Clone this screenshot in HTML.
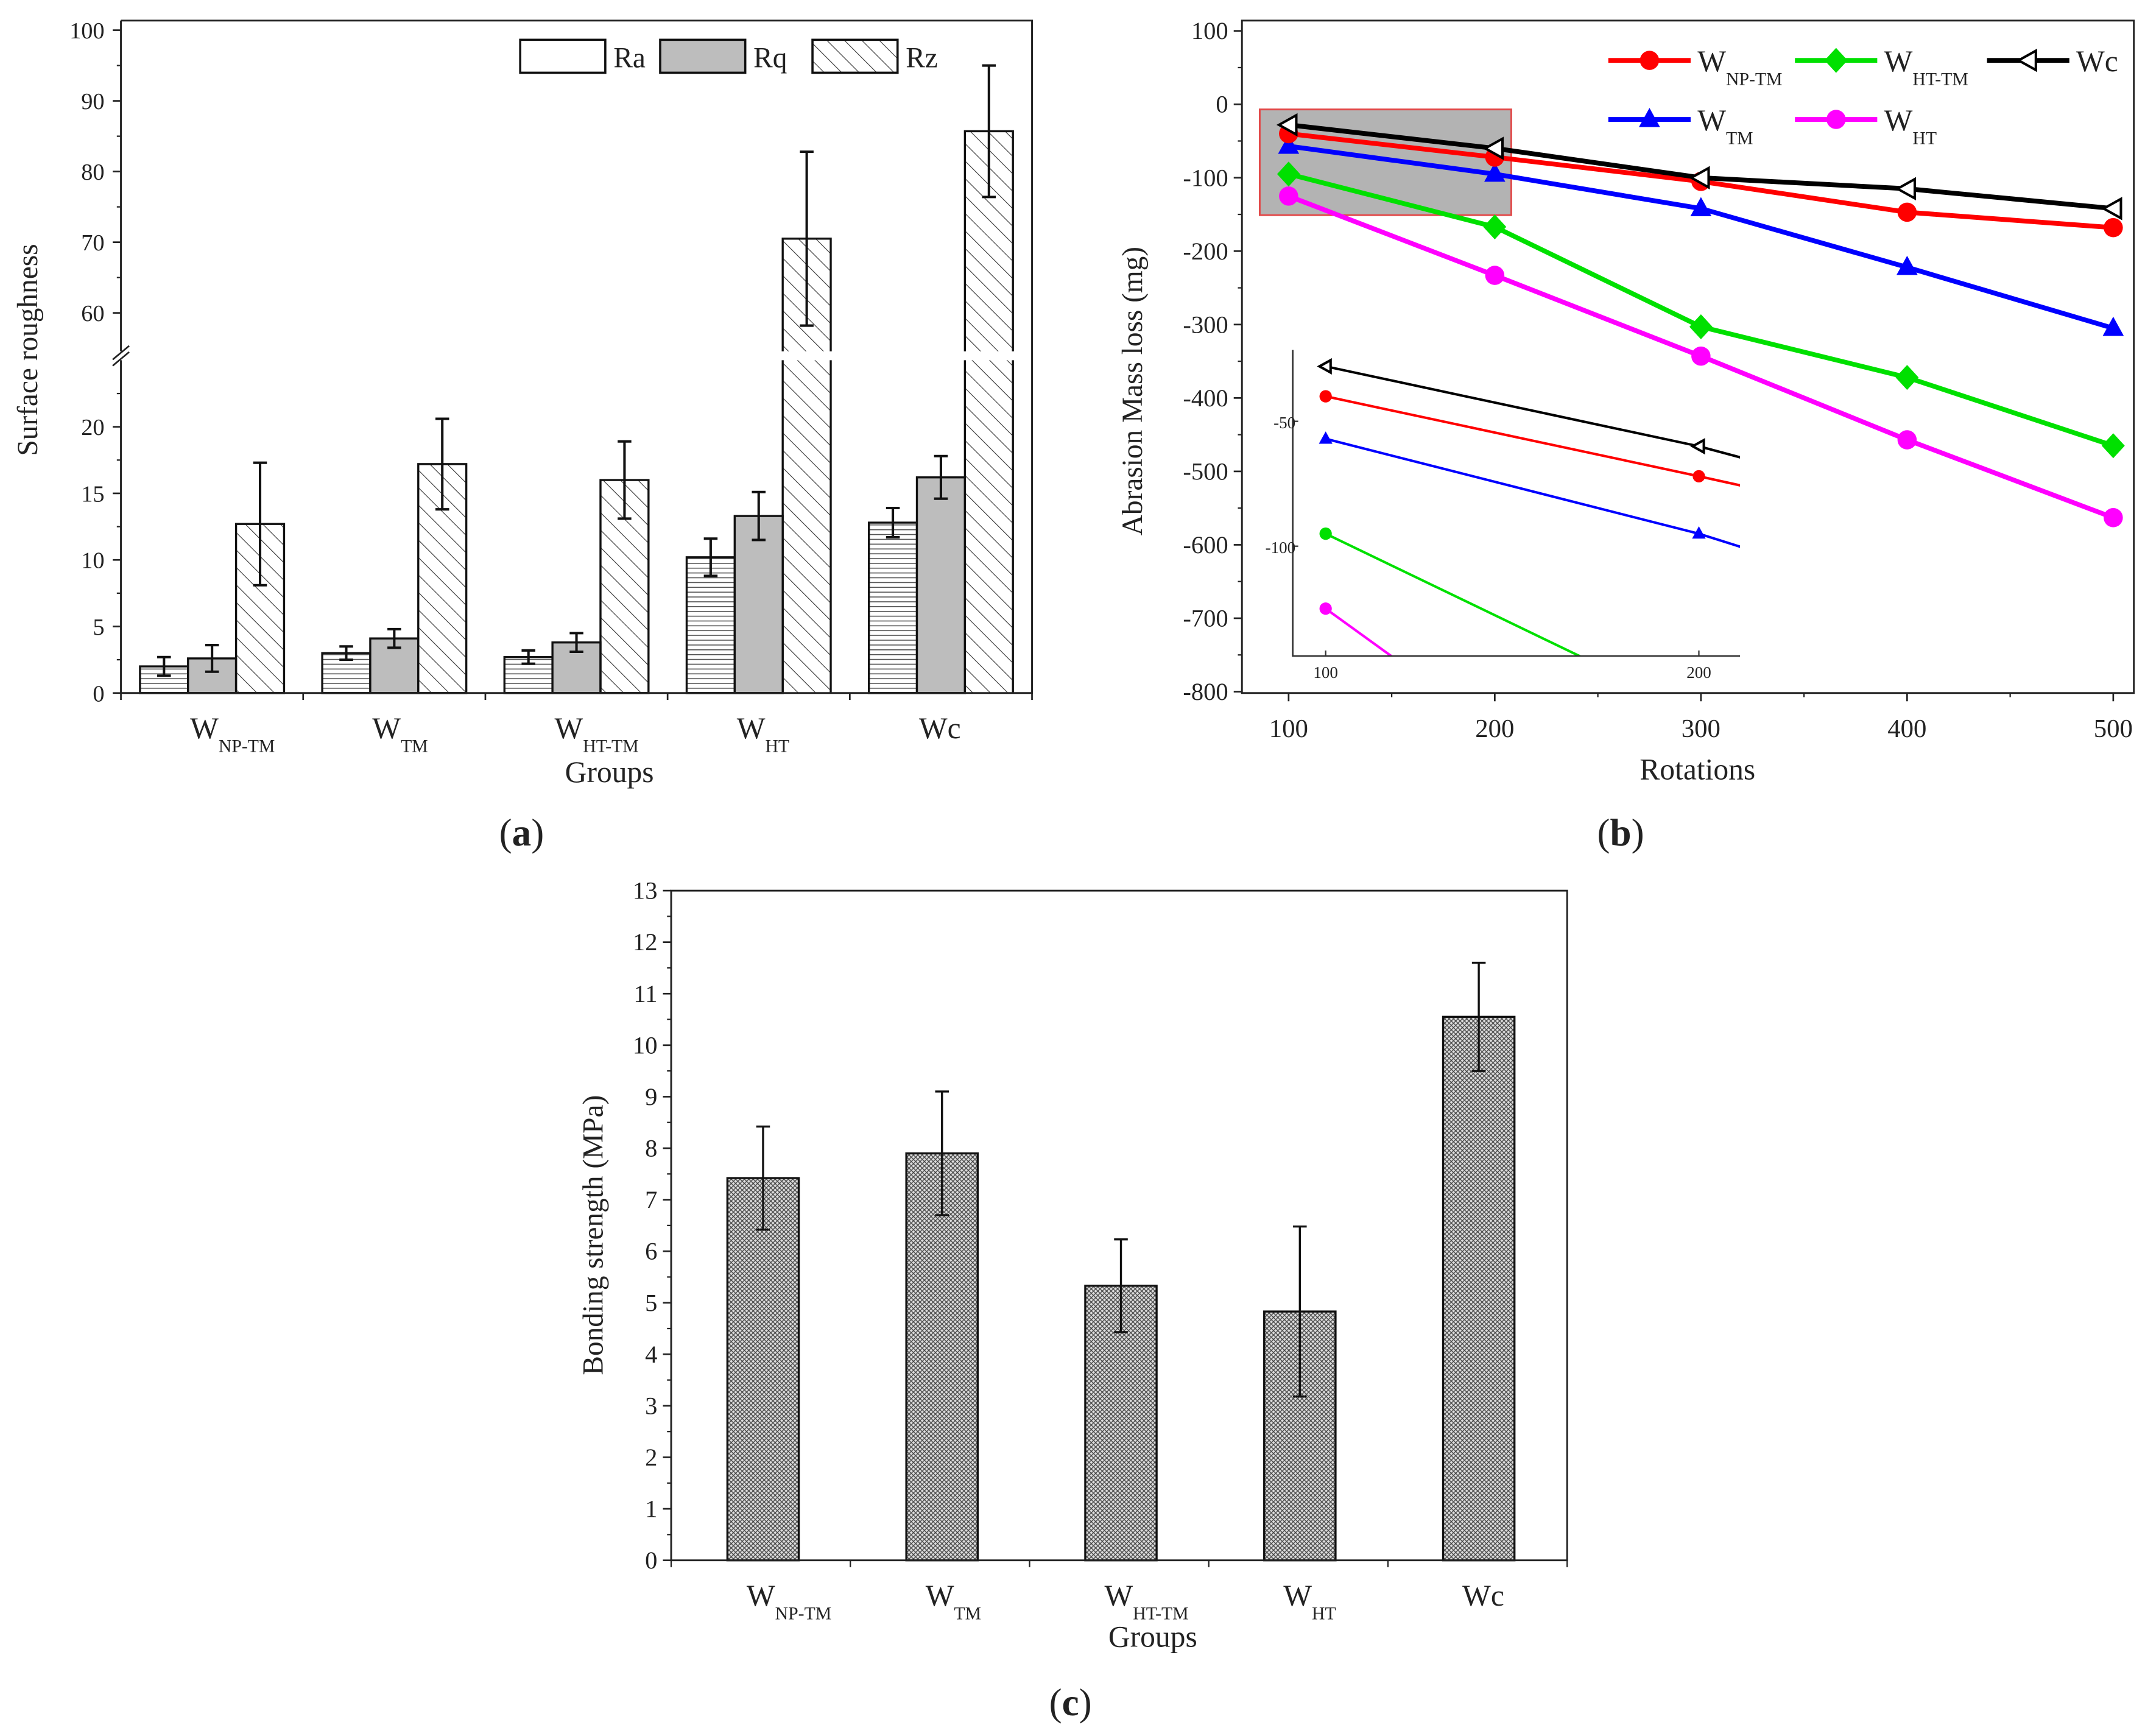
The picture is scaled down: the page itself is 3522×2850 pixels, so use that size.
<!DOCTYPE html>
<html><head><meta charset="utf-8"><style>
html,body{margin:0;padding:0;background:#fff;}
svg{display:block;}
text{font-family:"Liberation Serif",serif;fill:#222;}
</style></head><body>
<svg id="fig" width="3522" height="2850" viewBox="0 0 1563 1265" xmlns="http://www.w3.org/2000/svg">
<defs>
<pattern id="diag" patternUnits="userSpaceOnUse" width="9" height="9" patternTransform="rotate(-45)"><line x1="0" y1="0" x2="0" y2="9" stroke="#333" stroke-width="1"/></pattern>
<pattern id="horiz" patternUnits="userSpaceOnUse" width="10" height="3.5"><line x1="0" y1="1" x2="10" y2="1" stroke="#555" stroke-width="0.7"/></pattern>
<pattern id="cross" patternUnits="userSpaceOnUse" width="3.2" height="3.2"><rect width="3.2" height="3.2" fill="#ddd"/><path d="M0,0L3.2,3.2M3.2,0L0,3.2" stroke="#444" stroke-width="0.6"/></pattern>
<clipPath id="insetClip"><rect x="942" y="255" width="326" height="223"/></clipPath>
</defs>
<g id="pa"></g>
<g id="pb"></g>
<g id="pc"></g>
</svg>
<script>
// ---------- Panel (a) data ----------
const aGroups = ["NP-TM","TM","HT-TM","HT","c"];
const raVals = [2.0, 3.0, 2.7, 10.2, 12.8];
const raErr = [0.7, 0.5, 0.5, 1.4, 1.1];
const rqVals = [2.6, 4.1, 3.8, 13.3, 16.2];
const rqErr = [1.0, 0.7, 0.7, 1.8, 1.6];
const rzVals = [12.7, 17.2, 16.0, 70.5, 85.7];
const rzErr = [4.6, 3.4, 2.9, 12.3, 9.3];
const aLowTicks = [0, 5, 10, 15, 20];
const aHighTicks = [60, 70, 80, 90, 100];
// ---------- Panel (b) data ----------
const rotations = [100, 200, 300, 400, 500];
const npTm = [-40, -72, -105, -147, -168];
const tm = [-57, -95, -142, -222, -305];
const htTm = [-95, -167, -303, -372, -465];
const ht = [-125, -233, -343, -457, -563];
const wc = [-28, -60, -100, -115, -142];
const bYTicks = [100, 0, -100, -200, -300, -400, -500, -600, -700, -800];
const bXTicks = [100, 200, 300, 400, 500];
// ---------- Panel (c) data ----------
const cGroups = ["NP-TM","TM","HT-TM","HT","c"];
const bondVals = [7.42, 7.9, 5.33, 4.83, 10.55];
const bondErr = [1.0, 1.2, 0.9, 1.65, 1.05];
const cYTicks = [0,1,2,3,4,5,6,7,8,9,10,11,12,13];

const NS = "http://www.w3.org/2000/svg";
function mk(parent, tag, attrs, txt){
  const e = document.createElementNS(NS, tag);
  for (const k in attrs) e.setAttribute(k, attrs[k]);
  if (txt !== undefined) e.textContent = txt;
  parent.appendChild(e);
  return e;
}
function wlabel(parent, x, y, sub, fs){
  const t = mk(parent, "text", {x:x, y:y, "font-size":fs});
  if (sub === "c") { t.textContent = "Wc"; return t; }
  const a = document.createElementNS(NS, "tspan"); a.textContent = "W"; t.appendChild(a);
  const b = document.createElementNS(NS, "tspan"); b.setAttribute("dy", fs*0.45); b.setAttribute("font-size", fs*0.6); b.textContent = sub; t.appendChild(b);
  return t;
}

// ================= Panel A =================
(function(){
  const g = document.getElementById("pa");
  const L=88, R=752, T=15, B=505;
  function ya(v){ return v <= 25 ? 505 - v*9.7 : 228 - (v-60)*5.15; }
  const lowTop = ya(25), highBot = 256;
  const gw = (R-L)/5, bw = 35;
  function gx(i){ return L + gw*i + gw/2; }
  const series = [
    {vals:raVals, err:raErr, fill:"url(#horiz)", name:"ra", off:-1},
    {vals:rqVals, err:rqErr, fill:"#bdbdbd", name:"rq", off:0},
    {vals:rzVals, err:rzErr, fill:"url(#diag)", name:"rz", off:1}
  ];
  series.forEach(s=>{
    s.vals.forEach((v,i)=>{
      const x = gx(i) + s.off*bw - bw/2;
      if (v <= 25) {
        const r = mk(g,"rect",{x:x,y:ya(v),width:bw,height:B-ya(v),fill:s.fill,stroke:"#111","stroke-width":1.5});
        
        
      } else {
        const r1 = mk(g,"path",{d:`M${x},${B}V${lowTop}H${x+bw}V${B}Z`,fill:s.fill,stroke:"none"});
        
        
        mk(g,"path",{d:`M${x},${B}V${lowTop}M${x+bw},${lowTop}V${B}`,fill:"none",stroke:"#111","stroke-width":1.5});
        const r2 = mk(g,"path",{d:`M${x},${highBot}V${ya(v)}H${x+bw}V${highBot}Z`,fill:s.fill,stroke:"none"});
        
        
        mk(g,"path",{d:`M${x},${highBot}V${ya(v)}H${x+bw}V${highBot}`,fill:"none",stroke:"#111","stroke-width":1.5});
      }
      const cx = x + bw/2, e = s.err[i];
      const y1 = ya(v+e), y2 = ya(v-e);
      const eb = mk(g,"path",{d:`M${cx},${y1}V${y2}M${cx-5},${y1}H${cx+5}M${cx-5},${y2}H${cx+5}`,stroke:"#111","stroke-width":1.8,fill:"none"});
      
      
    });
  });
  const ax = mk(g,"path",{d:`M${L},${T}V${highBot}M${L},${lowTop}V${B}H${R}V${T}H${L}`,stroke:"#222","stroke-width":1.3,fill:"none"});
  
  
  mk(g,"path",{d:`M${L-6},${highBot+6}L${L+6},${highBot-4}M${L-6},${lowTop+4}L${L+6},${lowTop-6}`,stroke:"#222","stroke-width":1.2});
  aLowTicks.concat(aHighTicks).forEach(v=>{
    const y = ya(v);
    mk(g,"line",{x1:L-6,y1:y,x2:L,y2:y,stroke:"#222","stroke-width":1.2});
    const t = mk(g,"text",{x:L-12,y:y+6,"text-anchor":"end","font-size":17},String(v));
    
    
  });
  for (let v=2.5; v<25; v+=5) mk(g,"line",{x1:L-3,y1:ya(v),x2:L,y2:ya(v),stroke:"#222"});
  for (let v=65; v<100; v+=10) mk(g,"line",{x1:L-3,y1:ya(v),x2:L,y2:ya(v),stroke:"#222"});
  for (let i=0;i<=5;i++){ const x=L+gw*i; mk(g,"line",{x1:x,y1:B,x2:x,y2:B+5,stroke:"#222","stroke-width":1.2}); }
  aGroups.forEach((n,i)=>{
    const t = wlabel(g, gx(i)-16, 538, n, 22);
    
    
  });
  let t = mk(g,"text",{x:444,y:570,"text-anchor":"middle","font-size":22},"Groups");
   
  t = mk(g,"text",{x:0,y:0,"text-anchor":"middle","font-size":21,transform:"translate(27,255) rotate(-90)"},"Surface roughness");
   
  const leg = [["Ra","#fff",379],["Rq","#bdbdbd",481],["Rz","url(#diag)",592]];
  leg.forEach(l=>{
    const r = mk(g,"rect",{x:l[2],y:29,width:62,height:24,fill:l[1],stroke:"#111","stroke-width":1.6});
     
    const tx = mk(g,"text",{x:l[2]+68,y:49,"font-size":21},l[0]);
     
  });
  const pl = mk(g,"text",{x:380,y:616,"text-anchor":"middle","font-size":28});
  pl.innerHTML = '(<tspan font-weight="bold">a</tspan>)';
   
})();

// ================= Panel B =================
(function(){
  const g = document.getElementById("pb");
  const L=905, R=1555, T=15, B=505;
  const xb = v => 939 + (v-100)*1.5025;
  const yb = v => 76 - v*0.535;
  const series = [
    {vals:wc, color:"#000", name:"wc", m:"tri-left"},
    {vals:npTm, color:"#f00", name:"np-tm", m:"circle"},
    {vals:tm, color:"#00f", name:"tm", m:"triangle"},
    {vals:htTm, color:"#00e000", name:"ht-tm", m:"diamond"},
    {vals:ht, color:"#ff00ff", name:"ht", m:"circle"}
  ];
  function marker(p, m, x, y, c, s){
    if (m==="circle") return mk(p,"circle",{cx:x,cy:y,r:s,fill:c});
    if (m==="triangle") return mk(p,"path",{d:`M${x},${y-s*1.2}L${x+s*1.1},${y+s*0.8}L${x-s*1.1},${y+s*0.8}Z`,fill:c});
    if (m==="diamond") return mk(p,"path",{d:`M${x},${y-s*1.3}L${x+s*1.2},${y}L${x},${y+s*1.3}L${x-s*1.2},${y}Z`,fill:c});
    return mk(p,"path",{d:`M${x-s},${y}L${x+s*0.8},${y-s}L${x+s*0.8},${y+s}Z`,fill:"#fff",stroke:c,"stroke-width":1.8});
  }
  const hr = mk(g,"rect",{x:xb(86),y:yb(-7),width:xb(208)-xb(86),height:yb(-151)-yb(-7),fill:"#b3b3b3",stroke:"#e24a4a","stroke-width":1.3});
   
  [...series].reverse().forEach(s=>{
    const pts = s.vals.map((v,i)=>xb(rotations[i])+","+yb(v)).join(" ");
    const pl = mk(g,"polyline",{points:pts,fill:"none",stroke:s.color,"stroke-width":3.5});
     
    s.vals.forEach((v,i)=>{
      const mm = marker(g, s.m, xb(rotations[i]), yb(v), s.color, 7);
       
    });
  });
  const fr = mk(g,"rect",{x:L,y:T,width:R-L,height:B-T,fill:"none",stroke:"#222","stroke-width":1.3});
   
  bYTicks.forEach(v=>{
    const y=yb(v);
    mk(g,"line",{x1:L-6,y1:y,x2:L,y2:y,stroke:"#222","stroke-width":1.2});
    const t = mk(g,"text",{x:L-10,y:y+6,"text-anchor":"end","font-size":18},String(v));
     
  });
  for (let v=50; v>-800; v-=100) mk(g,"line",{x1:L-3,y1:yb(v),x2:L,y2:yb(v),stroke:"#222"});
  bXTicks.forEach(v=>{
    const x=xb(v);
    mk(g,"line",{x1:x,y1:B,x2:x,y2:B+6,stroke:"#222","stroke-width":1.2});
    const t = mk(g,"text",{x:x,y:537,"text-anchor":"middle","font-size":19},String(v));
     
  });
  for (let v=150; v<500; v+=100) mk(g,"line",{x1:xb(v),y1:B,x2:xb(v),y2:B+3,stroke:"#222"});
  let t = mk(g,"text",{x:1237,y:568,"text-anchor":"middle","font-size":22},"Rotations");
   
  t = mk(g,"text",{x:0,y:0,"text-anchor":"middle","font-size":21,transform:"translate(832,285) rotate(-90)"},"Abrasion Mass loss (mg)");
   
  const ig = mk(g,"g",{});
   
  const xi = v => 966 + (v-100)*2.72;
  const yi = v => 307 - (v+50)*1.82;
  const cg = mk(ig,"g",{"clip-path":"url(#insetClip)"});
  series.forEach(s=>{
    const pts = s.vals.map((v,i)=>xi(rotations[i])+","+yi(v)).join(" ");
    const pl = mk(cg,"polyline",{points:pts,fill:"none",stroke:s.color,"stroke-width":1.8});
     
    s.vals.forEach((v,i)=>{ marker(cg, s.m==="diamond"?"circle":s.m, xi(rotations[i]), yi(v), s.color, 4.5); });
  });
  mk(ig,"path",{d:"M942,255V478H1268",fill:"none",stroke:"#333","stroke-width":1.2});
  [-50,-100].forEach(v=>{
    mk(ig,"line",{x1:942,y1:yi(v),x2:946,y2:yi(v),stroke:"#333"});
    const tt = mk(ig,"text",{x:944,y:yi(v)+5,"text-anchor":"end","font-size":12},String(v));
     
  });
  [100,200].forEach(v=>{
    mk(ig,"line",{x1:xi(v),y1:478,x2:xi(v),y2:474,stroke:"#333"});
    const tt = mk(ig,"text",{x:xi(v),y:494,"text-anchor":"middle","font-size":12},String(v));
     
  });
  const leg = [
    ["NP-TM","#f00","circle",1172,44],["HT-TM","#00e000","diamond",1308,44],["c","#000","tri-left",1448,44],
    ["TM","#00f","triangle",1172,87],["HT","#ff00ff","circle",1308,87]
  ];
  leg.forEach(l=>{
    const lg = mk(g,"g",{});
     
    mk(lg,"line",{x1:l[3],y1:l[4],x2:l[3]+60,y2:l[4],stroke:l[1],"stroke-width":3.5});
    marker(lg,l[2],l[3]+30,l[4],l[1],7);
    wlabel(lg,l[3]+65,l[4]+8,l[0],22);
  });
  const pl = mk(g,"text",{x:1181,y:616,"text-anchor":"middle","font-size":28});
  pl.innerHTML = '(<tspan font-weight="bold">b</tspan>)';
   
})();

// ================= Panel C =================
(function(){
  const g = document.getElementById("pc");
  const L=489, R=1142, T=649, B=1137;
  const yc = v => B - v*37.54;
  const gw = 130.4, bw = 52;
  const xc = i => 556 + i*gw;
  bondVals.forEach((v,i)=>{
    const r = mk(g,"rect",{x:xc(i)-bw/2,y:yc(v),width:bw,height:B-yc(v),fill:"url(#cross)",stroke:"#111","stroke-width":1.5});
     
    const e=bondErr[i], cx=xc(i), y1=yc(v+e), y2=yc(v-e);
    const eb = mk(g,"path",{d:`M${cx},${y1}V${y2}M${cx-5},${y1}H${cx+5}M${cx-5},${y2}H${cx+5}`,stroke:"#111","stroke-width":1.5,fill:"none"});
     
    const t = wlabel(g, cx-12, 1170, cGroups[i], 22);
     
  });
  const fr = mk(g,"rect",{x:L,y:T,width:R-L,height:B-T,fill:"none",stroke:"#222","stroke-width":1.3});
   
  cYTicks.forEach(v=>{
    mk(g,"line",{x1:L-6,y1:yc(v),x2:L,y2:yc(v),stroke:"#222","stroke-width":1.2});
    if (v < 13) mk(g,"line",{x1:L-3,y1:yc(v+0.5),x2:L,y2:yc(v+0.5),stroke:"#222"});
    const t = mk(g,"text",{x:L-10,y:yc(v)+6,"text-anchor":"end","font-size":18},String(v));
     
  });
  for (let i=0;i<=5;i++){ const x=L+(R-L)/5*i; mk(g,"line",{x1:x,y1:B,x2:x,y2:B+5,stroke:"#222"}); }
  let t = mk(g,"text",{x:840,y:1200,"text-anchor":"middle","font-size":22},"Groups");
   
  t = mk(g,"text",{x:0,y:0,"text-anchor":"middle","font-size":21,transform:"translate(439,900) rotate(-90)"},"Bonding strength (MPa)");
   
  const pl = mk(g,"text",{x:780,y:1250,"text-anchor":"middle","font-size":28});
  pl.innerHTML = '(<tspan font-weight="bold">c</tspan>)';
   
})();
</script>
</body></html>
